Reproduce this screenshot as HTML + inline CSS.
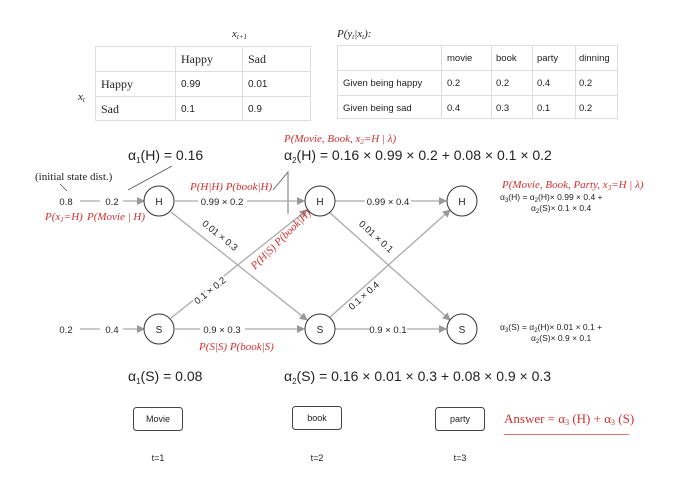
<!DOCTYPE html>
<html><head><meta charset="utf-8"><style>
html,body{margin:0;padding:0;background:#fff;}
svg{display:block;}
.s{font-family:"Liberation Sans",sans-serif;fill:#222;}
.r{font-family:"Liberation Serif",serif;fill:#d32f2f;font-style:italic;}
.t{font-family:"Liberation Serif",serif;fill:#222;}
.h{stroke:#fff;stroke-width:4px;paint-order:stroke;}
</style></head><body>
<svg width="695" height="493" viewBox="0 0 695 493" xmlns="http://www.w3.org/2000/svg">
<defs><marker id="a" markerWidth="8" markerHeight="8" refX="7" refY="4" orient="auto" markerUnits="userSpaceOnUse"><path d="M0,0 L8,4 L0,8 z" fill="#999"/></marker></defs>
<text x="232" y="37" class="t" font-style="italic" font-size="11">x<tspan font-size="7" dy="2">t+1</tspan></text>
<text x="78" y="100" class="t" font-style="italic" font-size="11">x<tspan font-size="7" dy="2">t</tspan></text>
<g stroke="#ddd" fill="none" stroke-width="1">
<rect x="95.5" y="46.5" width="215" height="74"/>
<line x1="95" y1="71.5" x2="310" y2="71.5"/><line x1="95" y1="96.5" x2="310" y2="96.5"/>
<line x1="175.5" y1="46" x2="175.5" y2="121"/><line x1="242.5" y1="46" x2="242.5" y2="121"/>
</g>
<g class="t" font-size="12"><text x="181" y="63">Happy</text><text x="248" y="63">Sad</text><text x="101" y="88">Happy</text><text x="101" y="113">Sad</text></g>
<g class="s" font-size="10"><text x="181" y="87">0.99</text><text x="248" y="87">0.01</text><text x="181" y="112">0.1</text><text x="248" y="112">0.9</text></g>
<text x="337" y="37" class="t" font-style="italic" font-size="11">P(y<tspan font-size="7" dy="2">t</tspan><tspan dy="-2">|x</tspan><tspan font-size="7" dy="2">t</tspan><tspan dy="-2">):</tspan></text>
<g stroke="#ddd" fill="none" stroke-width="1">
<rect x="337.5" y="45.5" width="280" height="73"/>
<line x1="337" y1="70.5" x2="617" y2="70.5"/><line x1="337" y1="95.5" x2="617" y2="95.5"/>
<line x1="441.5" y1="45" x2="441.5" y2="118"/><line x1="491.5" y1="45" x2="491.5" y2="118"/>
<line x1="532.5" y1="45" x2="532.5" y2="118"/><line x1="575.5" y1="45" x2="575.5" y2="118"/>
</g>
<g class="s" font-size="9.5">
<text x="447" y="61">movie</text><text x="496" y="61">book</text><text x="537" y="61">party</text><text x="579" y="61">dinning</text>
<text x="343" y="86">Given being happy</text><text x="447" y="86">0.2</text><text x="496" y="86">0.2</text><text x="537" y="86">0.4</text><text x="579" y="86">0.2</text>
<text x="343" y="111">Given being sad</text><text x="447" y="111">0.4</text><text x="496" y="111">0.3</text><text x="537" y="111">0.1</text><text x="579" y="111">0.2</text>
</g>
<text x="128" y="160" class="s" font-size="14">α<tspan font-size="8" dy="3">1</tspan><tspan dy="-3">(H) = 0.16</tspan></text>
<text x="284" y="142" class="r" font-size="11">P(Movie, Book, x<tspan font-size="7" dy="2">2</tspan><tspan dy="-2">=H | λ)</tspan></text>
<text x="284" y="160" class="s" font-size="14">α<tspan font-size="8" dy="3">2</tspan><tspan dy="-3">(H) = 0.16 × 0.99 × 0.2 + 0.08 × 0.1 × 0.2</tspan></text>
<text x="35" y="180" class="t" font-size="11">(initial state dist.)</text>
<g stroke="#555" stroke-width="0.8" fill="none">
<line x1="60" y1="184" x2="67" y2="191"/>
<line x1="128" y1="190" x2="172" y2="166"/>
<polyline points="273,190 288,172 288,214"/>
</g>
<g stroke="#aaa" stroke-width="1.3" fill="none">
<line x1="80" y1="201" x2="100" y2="201"/>
<line x1="123" y1="201" x2="144" y2="201" marker-end="url(#a)"/>
<line x1="80" y1="329" x2="100" y2="329"/>
<line x1="123" y1="329" x2="144" y2="329" marker-end="url(#a)"/>
<line x1="175" y1="201" x2="198" y2="201"/><line x1="247" y1="201" x2="304" y2="201" marker-end="url(#a)"/>
<line x1="175" y1="329" x2="200" y2="329"/><line x1="245" y1="329" x2="304" y2="329" marker-end="url(#a)"/>
<line x1="335" y1="201" x2="365" y2="201"/><line x1="411" y1="201" x2="446" y2="201" marker-end="url(#a)"/>
<line x1="335" y1="329" x2="370" y2="329"/><line x1="407" y1="329" x2="446" y2="329" marker-end="url(#a)"/>
<line x1="171" y1="212" x2="307" y2="320" marker-end="url(#a)"/>
<line x1="171" y1="318" x2="307" y2="210" marker-end="url(#a)"/>
<line x1="329" y1="212" x2="450" y2="320" marker-end="url(#a)"/>
<line x1="329" y1="318" x2="450" y2="210" marker-end="url(#a)"/>
</g>
<g stroke="#333" stroke-width="1" fill="#fff">
<circle cx="159" cy="201" r="15"/><circle cx="320" cy="201" r="15"/><circle cx="462" cy="201" r="15"/>
<circle cx="159" cy="329" r="15"/><circle cx="320" cy="329" r="15"/><circle cx="462" cy="329" r="15"/>
</g>
<g class="s" font-size="10" text-anchor="middle">
<text x="159" y="205">H</text><text x="320" y="205">H</text><text x="462" y="205">H</text>
<text x="159" y="333">S</text><text x="320" y="333">S</text><text x="462" y="333">S</text>
</g>
<g class="s" font-size="9.5" text-anchor="middle">
<text x="66" y="205">0.8</text><text x="112" y="205">0.2</text>
<text x="66" y="333">0.2</text><text x="112" y="333">0.4</text>
<text x="222" y="205">0.99 × 0.2</text><text x="222" y="333">0.9 × 0.3</text>
<text x="388" y="205">0.99 × 0.4</text><text x="388" y="333">0.9 × 0.1</text>
<text class="s h" transform="translate(218,238) rotate(39)">0.01 × 0.3</text>
<text class="s h" transform="translate(212,293) rotate(-39)">0.1 × 0.2</text>
<text class="s h" transform="translate(374,239) rotate(42)">0.01 × 0.1</text>
<text class="s h" transform="translate(366,298) rotate(-42)">0.1 × 0.4</text>
</g>
<g class="r" font-size="11">
<text x="45" y="220">P(x<tspan font-size="7" dy="2">1</tspan><tspan dy="-2">=H)</tspan></text>
<text x="87" y="220">P(Movie | H)</text>
<text x="190" y="190">P(H|H) P(book|H)</text>
<text x="199" y="350">P(S|S) P(book|S)</text>
<text transform="translate(255,270) rotate(-45)">P(H|S) P(book|H)</text>
<text x="502" y="188">P(Movie, Book, Party, x<tspan font-size="7" dy="2">3</tspan><tspan dy="-2">=H | λ)</tspan></text>
</g>
<g class="s" font-size="8.5">
<text x="500" y="200">α<tspan font-size="6" dy="2">3</tspan><tspan dy="-2">(H) = α</tspan><tspan font-size="6" dy="2">2</tspan><tspan dy="-2">(H)× 0.99 × 0.4 +</tspan></text>
<text x="531" y="211">α<tspan font-size="6" dy="2">2</tspan><tspan dy="-2">(S)× 0.1 × 0.4</tspan></text>
<text x="500" y="330">α<tspan font-size="6" dy="2">3</tspan><tspan dy="-2">(S) = α</tspan><tspan font-size="6" dy="2">2</tspan><tspan dy="-2">(H)× 0.01 × 0.1 +</tspan></text>
<text x="531" y="341">α<tspan font-size="6" dy="2">2</tspan><tspan dy="-2">(S)× 0.9 × 0.1</tspan></text>
</g>
<text x="128" y="381" class="s" font-size="14">α<tspan font-size="8" dy="3">1</tspan><tspan dy="-3">(S) = 0.08</tspan></text>
<text x="284" y="381" class="s" font-size="14">α<tspan font-size="8" dy="3">2</tspan><tspan dy="-3">(S) = 0.16 × 0.01 × 0.3 + 0.08 × 0.9 × 0.3</tspan></text>
<g stroke="#444" stroke-width="1" fill="#fff">
<rect x="133.5" y="407.5" width="49" height="23" rx="3"/>
<rect x="292.5" y="406.5" width="49" height="23" rx="3"/>
<rect x="435.5" y="407.5" width="49" height="23" rx="3"/>
</g>
<g class="s" font-size="9" text-anchor="middle">
<text x="158" y="422">Movie</text><text x="317" y="421">book</text><text x="460" y="422">party</text>
<text x="158" y="461">t=1</text><text x="317" y="461">t=2</text><text x="460" y="461">t=3</text>
</g>
<text x="504" y="423" font-family="Liberation Serif,serif" font-size="13" fill="#d32f2f">Answer = α<tspan font-size="8" dy="2">3</tspan><tspan dy="-2"> (H) + α</tspan><tspan font-size="8" dy="2">3</tspan><tspan dy="-2"> (S)</tspan></text>
<line x1="504" y1="434.5" x2="629" y2="434.5" stroke="#e57373" stroke-width="1"/>
</svg>
</body></html>
